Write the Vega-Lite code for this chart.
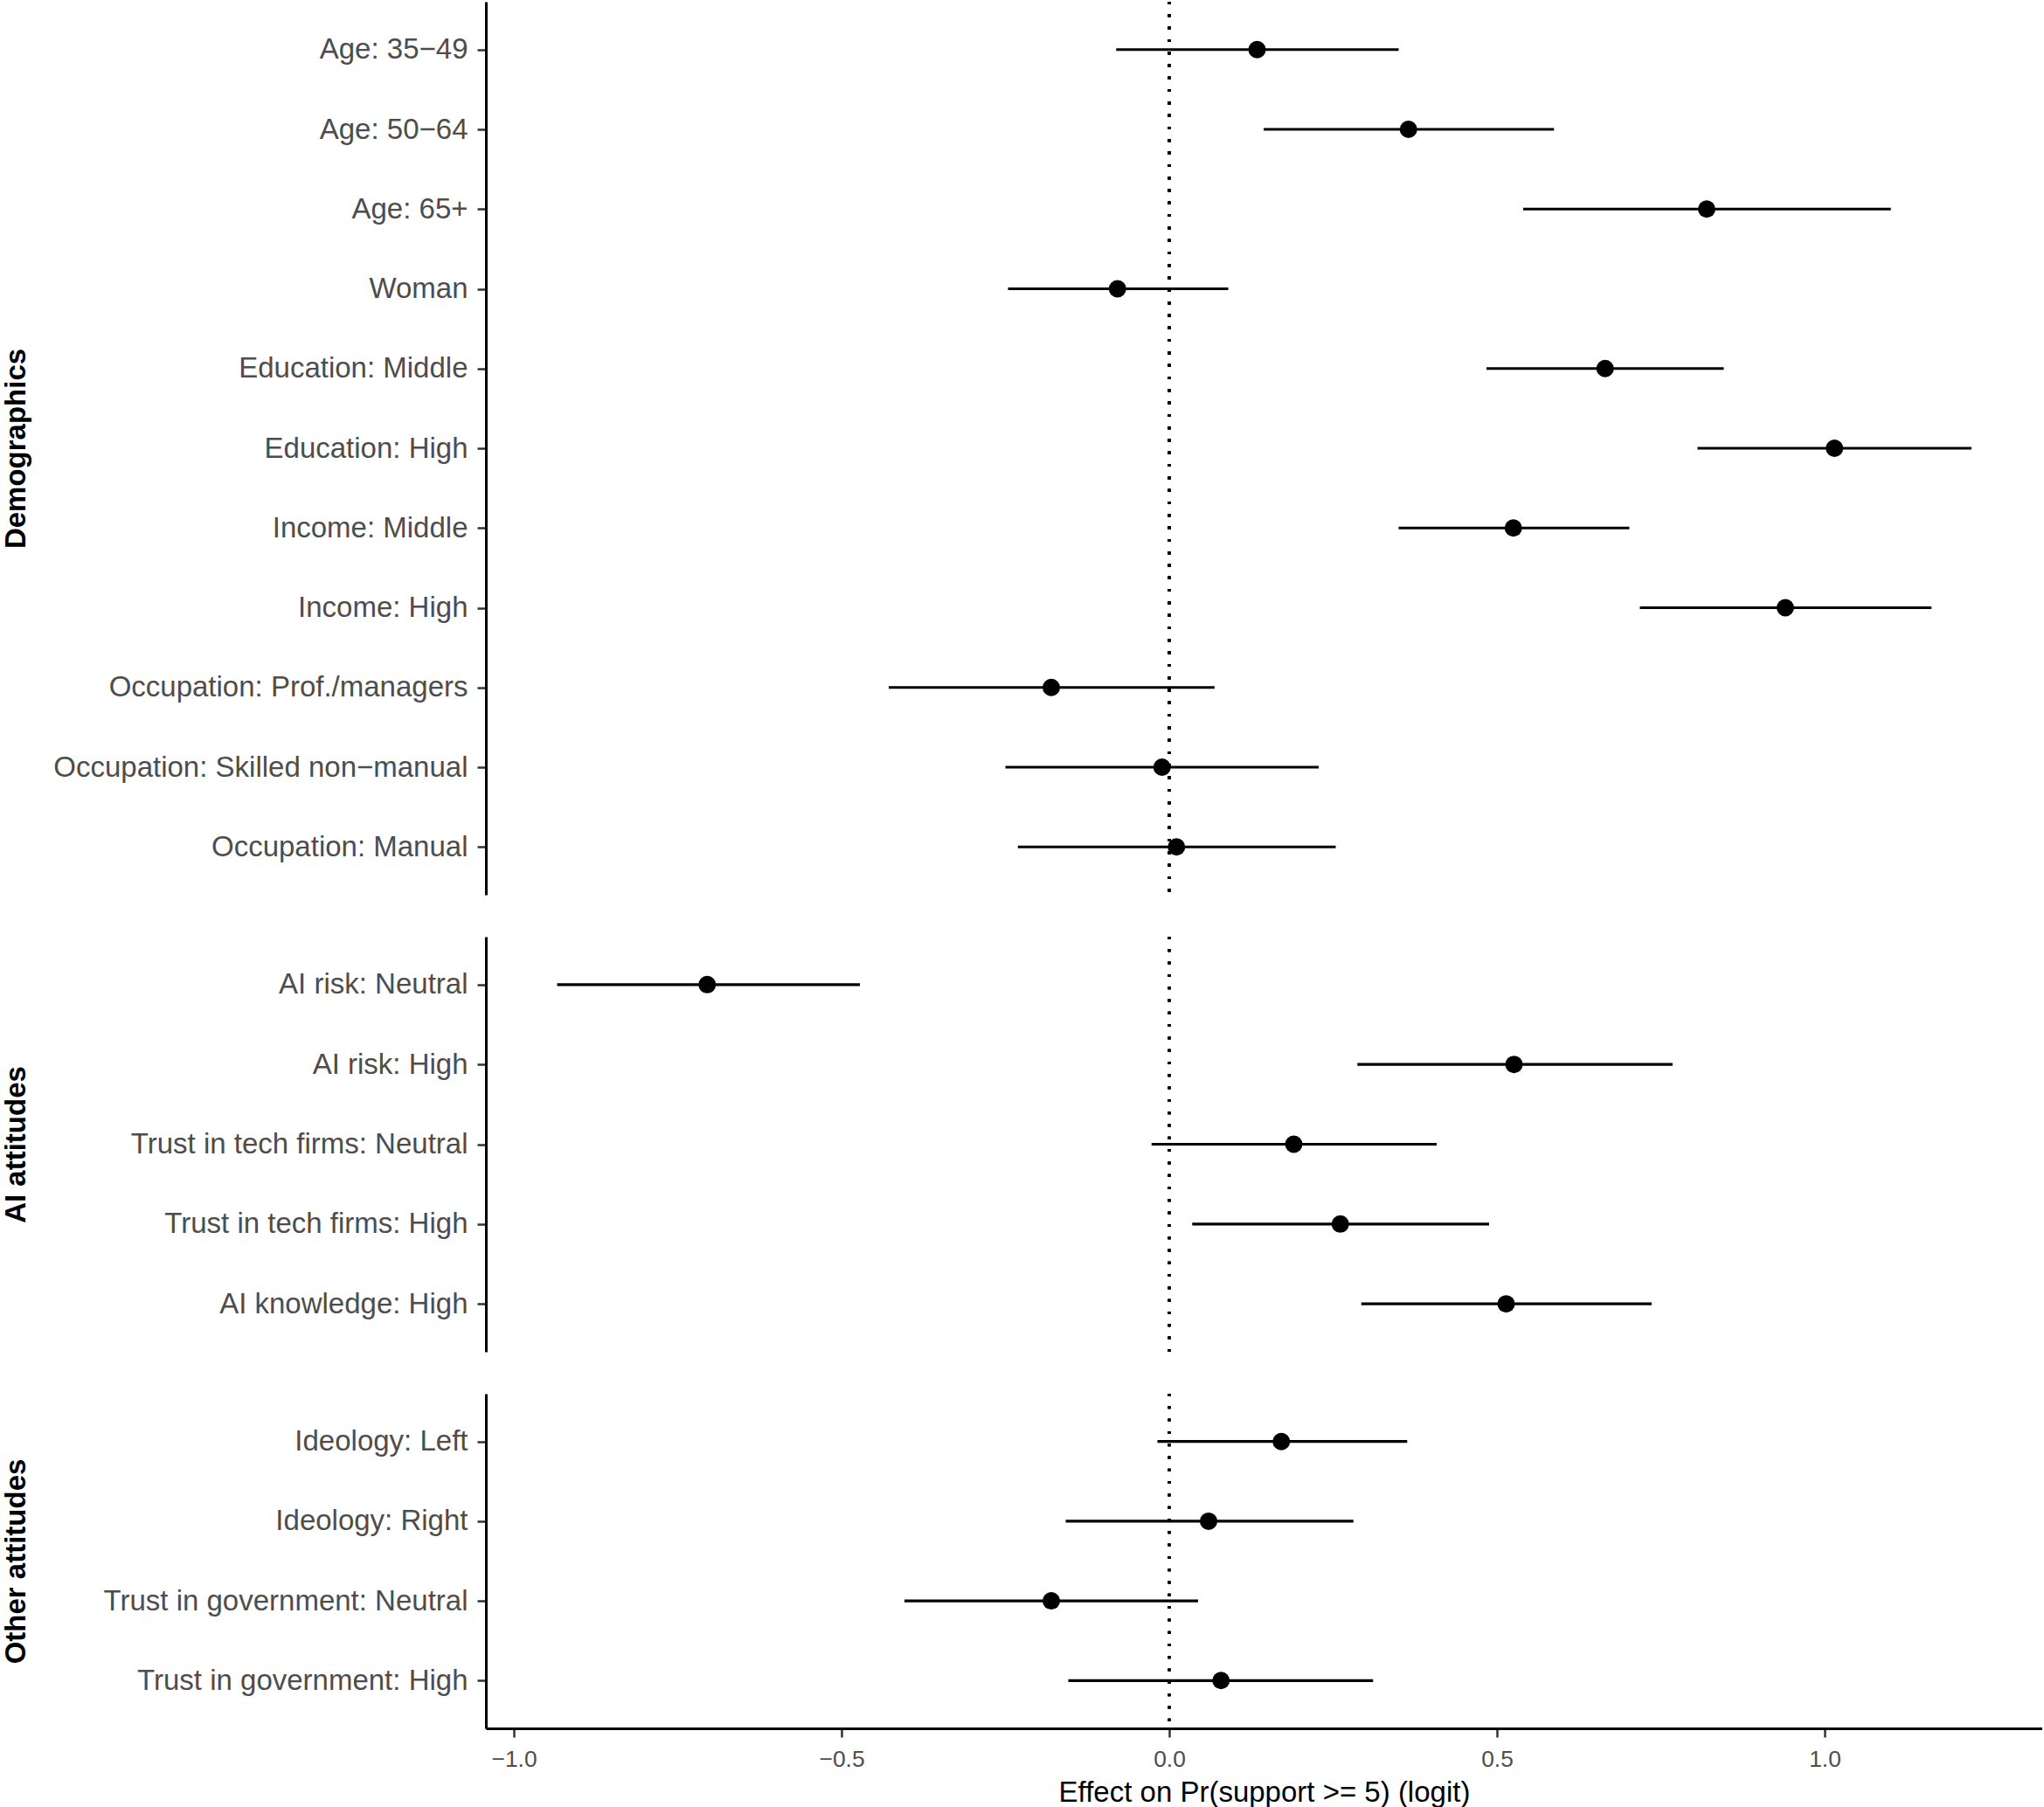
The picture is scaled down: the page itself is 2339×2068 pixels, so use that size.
{
  "$schema": "https://vega.github.io/schema/vega-lite/v6.json",
  "padding": {"left": 2, "top": 0, "right": 0, "bottom": 0},
  "background": "white",
  "config": {
    "view": {"stroke": null},
    "font": "Liberation Sans",
    "axis": {"grid": false, "domainColor": "black", "domainWidth": 3, "tickColor": "#333333", "tickWidth": 2.5, "tickSize": 10, "labelColor": "#4d4d4d", "labelFont": "Liberation Sans", "titleFont": "Liberation Sans"}
  },
  "datasets": {
    "coef": [
      {"group": "Demographics", "term": "Age: 35−49", "est": 0.134, "lo": -0.081, "hi": 0.350},
      {"group": "Demographics", "term": "Age: 50−64", "est": 0.365, "lo": 0.144, "hi": 0.587},
      {"group": "Demographics", "term": "Age: 65+", "est": 0.820, "lo": 0.540, "hi": 1.101},
      {"group": "Demographics", "term": "Woman", "est": -0.079, "lo": -0.246, "hi": 0.090},
      {"group": "Demographics", "term": "Education: Middle", "est": 0.665, "lo": 0.484, "hi": 0.846},
      {"group": "Demographics", "term": "Education: High", "est": 1.015, "lo": 0.806, "hi": 1.224},
      {"group": "Demographics", "term": "Income: Middle", "est": 0.525, "lo": 0.350, "hi": 0.702},
      {"group": "Demographics", "term": "Income: High", "est": 0.940, "lo": 0.718, "hi": 1.163},
      {"group": "Demographics", "term": "Occupation: Prof./managers", "est": -0.180, "lo": -0.428, "hi": 0.069},
      {"group": "Demographics", "term": "Occupation: Skilled non−manual", "est": -0.011, "lo": -0.250, "hi": 0.228},
      {"group": "Demographics", "term": "Occupation: Manual", "est": 0.011, "lo": -0.231, "hi": 0.254},
      {"group": "AI attitudes", "term": "AI risk: Neutral", "est": -0.705, "lo": -0.934, "hi": -0.472},
      {"group": "AI attitudes", "term": "AI risk: High", "est": 0.526, "lo": 0.287, "hi": 0.768},
      {"group": "AI attitudes", "term": "Trust in tech firms: Neutral", "est": 0.190, "lo": -0.027, "hi": 0.408},
      {"group": "AI attitudes", "term": "Trust in tech firms: High", "est": 0.261, "lo": 0.035, "hi": 0.488},
      {"group": "AI attitudes", "term": "AI knowledge: High", "est": 0.514, "lo": 0.293, "hi": 0.736},
      {"group": "Other attitudes", "term": "Ideology: Left", "est": 0.171, "lo": -0.018, "hi": 0.363},
      {"group": "Other attitudes", "term": "Ideology: Right", "est": 0.060, "lo": -0.158, "hi": 0.281},
      {"group": "Other attitudes", "term": "Trust in government: Neutral", "est": -0.180, "lo": -0.404, "hi": 0.044},
      {"group": "Other attitudes", "term": "Trust in government: High", "est": 0.079, "lo": -0.154, "hi": 0.311}
    ]
  },
  "data": {"name": "coef"},
  "spacing": 48,
  "bounds": "flush",
  "resolve": {"scale": {"x": "independent", "y": "independent"}},
  "vconcat": [
    {
      "width": 1781, "height": 1022,
      "transform": [{"filter": "datum.group === 'Demographics'"}],
      "layer": [
        {"mark": {"type": "rule", "color": "black", "strokeWidth": 3, "strokeDash": [3, 11.3]},
         "encoding": {"x": {"datum": 0, "type": "quantitative", "scale": {"domain": [-1.0427, 1.332], "nice": false, "zero": false}, "axis": null}}},
        {"mark": {"type": "rule", "color": "black", "strokeWidth": 3.2},
         "encoding": {
           "x": {"field": "lo", "type": "quantitative", "scale": {"domain": [-1.0427, 1.332], "nice": false, "zero": false}, "axis": null},
           "x2": {"field": "hi"},
           "y": {"field": "term", "type": "nominal", "sort": null, "scale": {"type": "point", "padding": 0.6},
                 "axis": {"title": "Demographics", "titleX": -528, "titleY": 511, "titleAngle": -90, "titleAlign": "center", "titleBaseline": "alphabetic", "titleFontSize": 33, "titleFontWeight": "bold", "titleColor": "black", "labelFontSize": 33, "labelPadding": 11, "labelLimit": 1000}}}},
        {"mark": {"type": "point", "filled": true, "size": 400, "color": "black", "opacity": 1, "strokeWidth": 0},
         "encoding": {
           "x": {"field": "est", "type": "quantitative", "scale": {"domain": [-1.0427, 1.332], "nice": false, "zero": false}, "axis": null},
           "y": {"field": "term", "type": "nominal", "sort": null, "scale": {"type": "point", "padding": 0.6},
                 "axis": {"title": "Demographics", "titleX": -528, "titleY": 511, "titleAngle": -90, "titleAlign": "center", "titleBaseline": "alphabetic", "titleFontSize": 33, "titleFontWeight": "bold", "titleColor": "black", "labelFontSize": 33, "labelPadding": 11, "labelLimit": 1000}}}}
      ]
    },
    {
      "width": 1781, "height": 475,
      "transform": [{"filter": "datum.group === 'AI attitudes'"}],
      "layer": [
        {"mark": {"type": "rule", "color": "black", "strokeWidth": 3, "strokeDash": [3, 11.3]},
         "encoding": {"x": {"datum": 0, "type": "quantitative", "scale": {"domain": [-1.0427, 1.332], "nice": false, "zero": false}, "axis": null}}},
        {"mark": {"type": "rule", "color": "black", "strokeWidth": 3.2},
         "encoding": {
           "x": {"field": "lo", "type": "quantitative", "scale": {"domain": [-1.0427, 1.332], "nice": false, "zero": false}, "axis": null},
           "x2": {"field": "hi"},
           "y": {"field": "term", "type": "nominal", "sort": null, "scale": {"type": "point", "padding": 0.6},
                 "axis": {"title": "AI attitudes", "titleX": -528, "titleY": 237.5, "titleAngle": -90, "titleAlign": "center", "titleBaseline": "alphabetic", "titleFontSize": 33, "titleFontWeight": "bold", "titleColor": "black", "labelFontSize": 33, "labelPadding": 11, "labelLimit": 1000}}}},
        {"mark": {"type": "point", "filled": true, "size": 400, "color": "black", "opacity": 1, "strokeWidth": 0},
         "encoding": {
           "x": {"field": "est", "type": "quantitative", "scale": {"domain": [-1.0427, 1.332], "nice": false, "zero": false}, "axis": null},
           "y": {"field": "term", "type": "nominal", "sort": null, "scale": {"type": "point", "padding": 0.6},
                 "axis": {"title": "AI attitudes", "titleX": -528, "titleY": 237.5, "titleAngle": -90, "titleAlign": "center", "titleBaseline": "alphabetic", "titleFontSize": 33, "titleFontWeight": "bold", "titleColor": "black", "labelFontSize": 33, "labelPadding": 11, "labelLimit": 1000}}}}
      ]
    },
    {
      "width": 1781, "height": 383,
      "transform": [{"filter": "datum.group === 'Other attitudes'"}],
      "layer": [
        {"mark": {"type": "rule", "color": "black", "strokeWidth": 3, "strokeDash": [3, 11.3]},
         "encoding": {"x": {"datum": 0, "type": "quantitative", "scale": {"domain": [-1.0427, 1.332], "nice": false, "zero": false},
           "axis": {"title": "Effect on Pr(support >= 5) (logit)", "values": [-1, -0.5, 0, 0.5, 1], "format": ".1f", "labelFontSize": 26.4, "labelPadding": 12, "labelFlush": false, "titleFontSize": 33, "titleFontWeight": "normal", "titleColor": "black", "titleY": 83, "titleBaseline": "alphabetic"}}}},
        {"mark": {"type": "rule", "color": "black", "strokeWidth": 3.2},
         "encoding": {
           "x": {"field": "lo", "type": "quantitative", "scale": {"domain": [-1.0427, 1.332], "nice": false, "zero": false},
             "axis": {"title": "Effect on Pr(support >= 5) (logit)", "values": [-1, -0.5, 0, 0.5, 1], "format": ".1f", "labelFontSize": 26.4, "labelPadding": 12, "labelFlush": false, "titleFontSize": 33, "titleFontWeight": "normal", "titleColor": "black", "titleY": 83, "titleBaseline": "alphabetic"}},
           "x2": {"field": "hi"},
           "y": {"field": "term", "type": "nominal", "sort": null, "scale": {"type": "point", "padding": 0.6},
                 "axis": {"title": "Other attitudes", "titleX": -528, "titleY": 191.5, "titleAngle": -90, "titleAlign": "center", "titleBaseline": "alphabetic", "titleFontSize": 33, "titleFontWeight": "bold", "titleColor": "black", "labelFontSize": 33, "labelPadding": 11, "labelLimit": 1000}}}},
        {"mark": {"type": "point", "filled": true, "size": 400, "color": "black", "opacity": 1, "strokeWidth": 0},
         "encoding": {
           "x": {"field": "est", "type": "quantitative", "scale": {"domain": [-1.0427, 1.332], "nice": false, "zero": false},
             "axis": {"title": "Effect on Pr(support >= 5) (logit)", "values": [-1, -0.5, 0, 0.5, 1], "format": ".1f", "labelFontSize": 26.4, "labelPadding": 12, "labelFlush": false, "titleFontSize": 33, "titleFontWeight": "normal", "titleColor": "black", "titleY": 83, "titleBaseline": "alphabetic"}},
           "y": {"field": "term", "type": "nominal", "sort": null, "scale": {"type": "point", "padding": 0.6},
                 "axis": {"title": "Other attitudes", "titleX": -528, "titleY": 191.5, "titleAngle": -90, "titleAlign": "center", "titleBaseline": "alphabetic", "titleFontSize": 33, "titleFontWeight": "bold", "titleColor": "black", "labelFontSize": 33, "labelPadding": 11, "labelLimit": 1000}}}}
      ]
    }
  ]
}
